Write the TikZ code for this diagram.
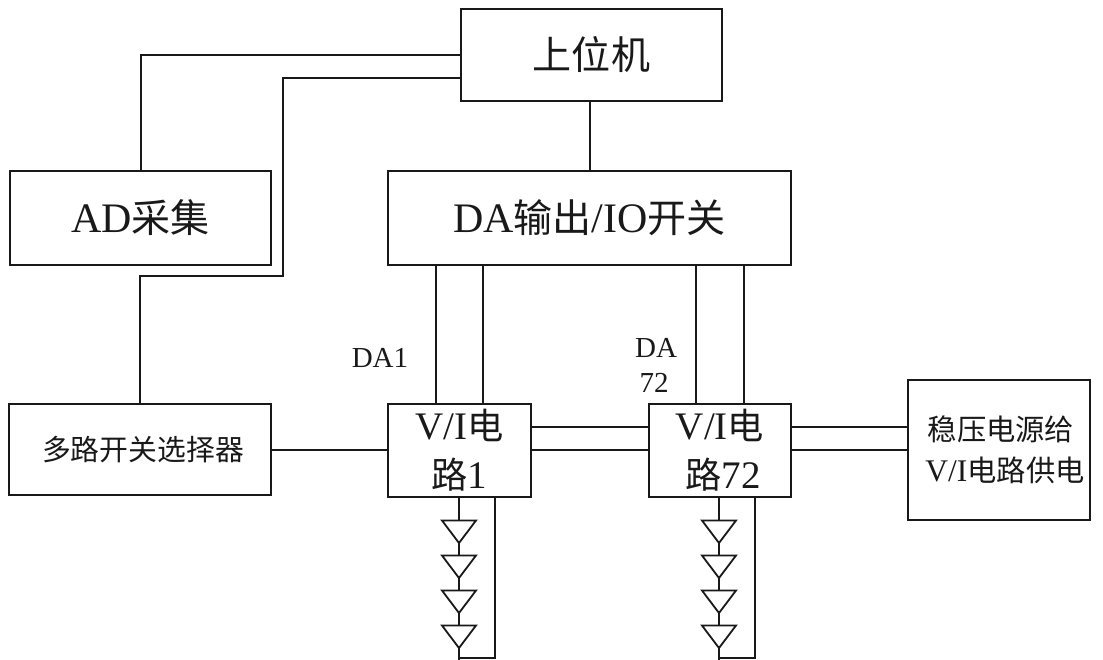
\documentclass[tikz,border=0pt]{standalone}
\usepackage{fontspec}
\setmainfont{Liberation Serif}
\newfontfamily\cjk{Noto Sans CJK SC}[Scale=0.93]
\newcommand{\zh}[1]{{\cjk #1}}
\tikzset{
  x=1pt,y=-1pt,
  block/.style={draw=black!90,line width=1.8pt,inner sep=0pt,align=center,text=black!90},
  wire/.style={draw=black!90,line width=1.8pt,line join=miter},
  lab/.style={inner sep=0pt,text=black!90,font=\fontsize{29}{32}\selectfont},
  big/.style={font=\fontsize{42}{52}\selectfont},
  vi/.style={font=\fontsize{39}{52}\selectfont},
  mid/.style={font=\fontsize{31.5}{41}\selectfont},
  muxtext/.style={font=\fontsize{31}{41}\selectfont}
}
\newcommand{\ledtri}[3]{% name, x, top y
  \coordinate (#1in) at (#2,#3);
  \coordinate (#1out) at (#2,#3+22.5);
  \draw[wire] (#2-17,#3) -- (#2+17,#3) -- (#1out) -- cycle;
}
\begin{document}
\begin{tikzpicture}
\useasboundingbox (0,0) rectangle (1103,660);
\node[block,big,minimum width=261pt,minimum height=92pt] (host) at (591.5,55) {\zh{上位机}};
\node[block,big,minimum width=261pt,minimum height=94pt] (ad) at (140.5,218) {AD\zh{采集}};
\node[block,big,minimum width=403pt,minimum height=94pt] (da) at (589.5,218) {DA\zh{输出}/IO\zh{开关}};
\node[block,muxtext,minimum width=262pt,minimum height=91pt] (mux) at (140,449.5) {\hspace{6pt}\zh{多路开关选择器}};
\node[block,vi,minimum width=143pt,minimum height=93pt] (vi1) at (459.5,450.5) {V/I\zh{电}\\[-3pt]\zh{路}1};
\node[block,vi,minimum width=142pt,minimum height=93pt] (vi72) at (720,450.5) {V/I\zh{电}\\[-3pt]\hspace{6pt}\zh{路}72};
\node[block,mid,minimum width=182pt,minimum height=140pt] (psu) at (999,450) {\hspace{4pt}\zh{稳压电源给}\\\hspace{12pt}V/I\zh{电路供电}};

\node[lab] (da1) at (380,358) {DA1};
\node[lab] (da72a) at (656,348) {DA};
\node[lab] (da72b) at (654,383) {72};

\draw[wire] (host.west |- 0,55) -| (ad.north -| 141,0);
\draw[wire] (host.west |- 0,78) -| (283,276) -- (140,276) -- (mux.north -| 140,0);
\draw[wire] (host.south -| 590,0) -- (da.north -| 590,0);
\draw[wire] (da.south -| 436,0) -- (vi1.north -| 436,0);
\draw[wire] (da.south -| 483,0) -- (vi1.north -| 483,0);
\draw[wire] (da.south -| 696,0) -- (vi72.north -| 696,0);
\draw[wire] (da.south -| 744,0) -- (vi72.north -| 744,0);
\draw[wire] (mux.east |- 0,450) -- (vi1.west |- 0,450);
\draw[wire] (vi1.east |- 0,427) -- (vi72.west |- 0,427);
\draw[wire] (vi1.east |- 0,450) -- (vi72.west |- 0,450);
\draw[wire] (vi72.east |- 0,427) -- (psu.west |- 0,427);
\draw[wire] (vi72.east |- 0,450) -- (psu.west |- 0,450);

% LED strings
\ledtri{a1}{459}{520.5}
\ledtri{a2}{459}{555.5}
\ledtri{a3}{459}{590.5}
\ledtri{a4}{459}{625.5}
\ledtri{b1}{719}{520.5}
\ledtri{b2}{719}{555.5}
\ledtri{b3}{719}{590.5}
\ledtri{b4}{719}{625.5}
\draw[wire] (vi1.south -| a1in) -- (a1in);
\draw[wire] (a1out) -- (a2in);
\draw[wire] (a2out) -- (a3in);
\draw[wire] (a3out) -- (a4in);
\draw[wire] (a4out) -- (459,660);
\draw[wire] (459,658) -- (495,658) -- (vi1.south -| 495,0);
\draw[wire] (vi72.south -| b1in) -- (b1in);
\draw[wire] (b1out) -- (b2in);
\draw[wire] (b2out) -- (b3in);
\draw[wire] (b3out) -- (b4in);
\draw[wire] (b4out) -- (719,660);
\draw[wire] (719,658) -- (755,658) -- (vi72.south -| 755,0);
\end{tikzpicture}
\end{document}
